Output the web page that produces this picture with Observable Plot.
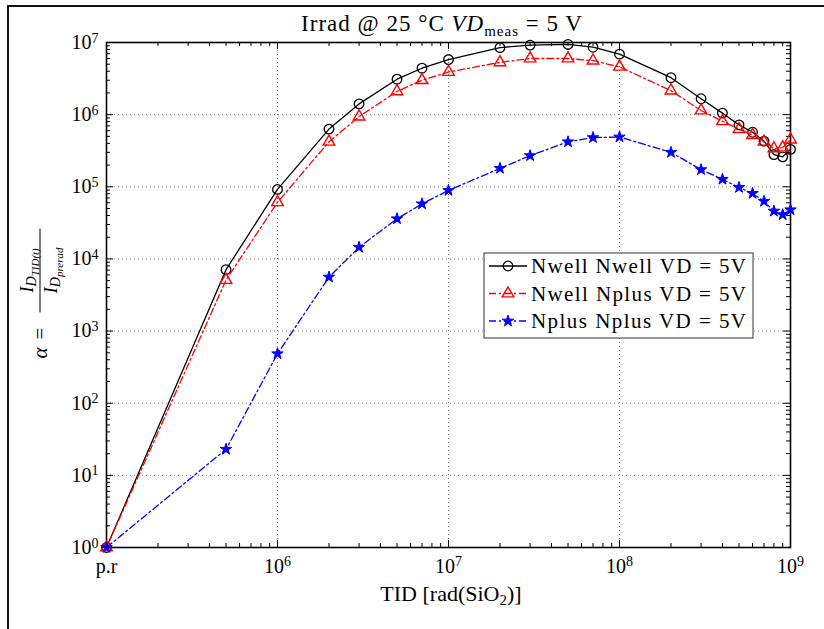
<!DOCTYPE html>
<html><head><meta charset="utf-8">
<script src="https://cdn.jsdelivr.net/npm/d3@7"></script>
<script src="https://cdn.jsdelivr.net/npm/@observablehq/plot@0.6"></script>
<style>html,body{margin:0;padding:0;background:#fff;overflow:hidden;} svg{display:block;}</style>
</head><body><div id="chart"></div>
<script>
// ---- data ----
const tid = [1e5, 5e5, 1e6, 2e6, 3e6, 5e6, 7e6, 1e7, 2e7, 3e7, 5e7, 7e7, 1e8, 2e8, 3e8, 4e8, 5e8, 6e8, 7e8, 8e8, 9e8, 1e9];
const nwellNwell = [1, 7.1e3, 9.2e4, 6.3e5, 1.41e6, 3.1e6, 4.4e6, 5.8e6, 8.5e6, 9.2e6, 9.4e6, 8.6e6, 6.9e6, 3.25e6, 1.66e6, 1.05e6, 7.2e5, 5.7e5, 4.3e5, 2.8e5, 2.6e5, 3.3e5];
const nwellNplus = [1, 5.1e3, 6.1e4, 4.2e5, 9.4e5, 2.1e6, 3.0e6, 3.9e6, 5.3e6, 6.0e6, 6.0e6, 5.6e6, 4.6e6, 2.15e6, 1.14e6, 8.1e5, 6.3e5, 5.2e5, 4.2e5, 3.4e5, 3.5e5, 4.5e5];
const nplusNplus = [1, 23, 485, 5.6e3, 1.45e4, 3.6e4, 5.8e4, 8.9e4, 1.8e5, 2.7e5, 4.2e5, 4.8e5, 4.9e5, 3.0e5, 1.73e5, 1.27e5, 9.8e4, 8.1e4, 6.3e4, 4.6e4, 4.1e4, 4.8e4];
const seriesNames = ["Nwell Nwell VD = 5V", "Nwell Nplus VD = 5V", "Nplus Nplus VD = 5V"];
const xMajor = [1e5, 1e6, 1e7, 1e8, 1e9];
const xTickLabels = ["p.r", "10^6", "10^7", "10^8", "10^9"];
const yMajor = [1e0, 1e1, 1e2, 1e3, 1e4, 1e5, 1e6, 1e7];
const yTickLabels = ["10^0", "10^1", "10^2", "10^3", "10^4", "10^5", "10^6", "10^7"];
const minorMult = [2, 3, 4, 5, 6, 7, 8, 9];
const titleText = "Irrad @ 25 \u00B0C";

// ---- layout ----
const W = 824, H = 629, mL = 106, mR = 34, mT = 42, mB = 82;
const pw = W - mL - mR, ph = H - mT - mB;
const FONT = "'Liberation Serif', 'DejaVu Serif', serif";

const xMinor = xMajor.slice(0, -1).flatMap(d => minorMult.map(m => d * m));
const yMinor = yMajor.slice(0, -1).flatMap(d => minorMult.map(m => d * m));
const xLab = new Map(xMajor.map((d, i) => [d, xTickLabels[i]]));
const yLab = new Map(yMajor.map((d, i) => [d, yTickLabels[i]]));

const s1 = tid.map((t, i) => ({t, v: nwellNwell[i]}));
const s2 = tid.map((t, i) => ({t, v: nwellNplus[i]}));
const s3 = tid.map((t, i) => ({t, v: nplusNplus[i]}));

const styles = [
  {color: "black", dash: null, symbol: "circle", r: 4.8, fill: "none", sw: 1.3},
  {color: "#ff0000", dash: "7,3,2,3", symbol: "triangle", r: 4.3, fill: "none", sw: 1.4},
  {color: "#0000ff", dash: "7,3,2,3", symbol: "star", r: 3.6, fill: "#0000ff", sw: 1}
];
const grid = {stroke: "#808080", strokeWidth: 1, strokeDasharray: "1,3", strokeOpacity: 1};

const chart = Plot.plot({
  width: W, height: H,
  marginLeft: mL, marginRight: mR, marginTop: mT, marginBottom: mB,
  x: {type: "log", domain: [1e5, 1e9]},
  y: {type: "log", domain: [1, 1e7]},
  style: {fontFamily: FONT, fontSize: "20px", background: "white", color: "black", overflow: "visible"},
  marks: [
    Plot.ruleX(xMajor.slice(1, -1), grid),
    Plot.ruleY(yMajor.slice(1, -1), grid),
    // inward minor ticks
    Plot.ruleX(xMinor, {insetTop: ph - 4, stroke: "black"}),
    Plot.ruleX(xMinor, {insetBottom: ph - 4, stroke: "black"}),
    Plot.ruleY(yMinor, {insetRight: pw - 4, stroke: "black"}),
    Plot.ruleY(yMinor, {insetLeft: pw - 4, stroke: "black"}),
    // inward major ticks
    Plot.ruleX(xMajor, {insetTop: ph - 7, stroke: "black"}),
    Plot.ruleX(xMajor, {insetBottom: ph - 7, stroke: "black"}),
    Plot.ruleY(yMajor, {insetRight: pw - 7, stroke: "black"}),
    Plot.ruleY(yMajor, {insetLeft: pw - 7, stroke: "black"}),
    Plot.frame({stroke: "black", strokeWidth: 1.6}),
    Plot.axisX({ticks: xMajor, tickSize: 0, tickPadding: 11, tickFormat: d => xLab.get(d), label: null}),
    Plot.axisY({ticks: yMajor, tickSize: 0, tickPadding: 8, tickFormat: d => yLab.get(d), label: null}),
    ...[s1, s2, s3].flatMap((s, k) => [
      Plot.line(s, {x: "t", y: "v", stroke: styles[k].color, strokeWidth: 1.3, strokeDasharray: styles[k].dash}),
      Plot.dot(s, {x: "t", y: "v", symbol: styles[k].symbol, r: styles[k].r, stroke: styles[k].color,
                   fill: styles[k].fill, strokeWidth: styles[k].sw})
    ])
  ]
});
document.getElementById("chart").appendChild(chart);

const svg = d3.select(chart);

// superscripts on tick labels
svg.selectAll('[aria-label="x-axis tick label"] text, [aria-label="y-axis tick label"] text').each(function () {
  const t = d3.select(this);
  const s = t.text();
  if (s.includes("^")) {
    const [b, e] = s.split("^");
    t.text(b);
    t.append("tspan").attr("dy", "-0.45em").attr("font-size", "0.7em").text(e);
  }
});

// outer border (top + left)
svg.append("path").attr("d", "M8,640V6H830").attr("fill", "none").attr("stroke", "#111").attr("stroke-width", 2);

// title
const tt = svg.append("text").attr("x", mL + pw / 2 - 6).attr("y", 31).attr("text-anchor", "middle")
  .attr("font-family", FONT).attr("font-size", 23).attr("letter-spacing", 1).attr("fill", "black");
tt.append("tspan").text(titleText + " ");
tt.append("tspan").attr("font-style", "italic").text("VD");
tt.append("tspan").attr("font-size", 15).attr("dy", 5).text("meas");
tt.append("tspan").attr("dy", -5).text(" = 5 V");

// x label
const xl = svg.append("text").attr("x", mL + pw / 2 + 3).attr("y", 601).attr("text-anchor", "middle")
  .attr("font-family", FONT).attr("font-size", 22).attr("fill", "black");
xl.append("tspan").text("TID [rad(SiO");
xl.append("tspan").attr("font-size", 15).attr("dy", 4).text("2");
xl.append("tspan").attr("dy", -4).text(")]");

// y label: alpha = I_D_TID(t) / I_D_prerad
const yg = svg.append("g").attr("transform", `translate(40,${mT + ph / 2}) rotate(-90)`)
  .attr("font-family", FONT).attr("fill", "black").attr("text-anchor", "start");
yg.append("text").attr("x", -64).attr("y", 7).attr("font-size", 21).attr("font-style", "italic").text("\u03B1");
yg.append("text").attr("x", -45).attr("y", 7).attr("font-size", 21).text("=");
yg.append("line").attr("x1", -18).attr("x2", 66).attr("y1", 0).attr("y2", 0).attr("stroke", "black").attr("stroke-width", 1);
const num = yg.append("text").attr("x", 24).attr("y", -7).attr("text-anchor", "middle").attr("font-style", "italic");
num.append("tspan").attr("font-size", 19).text("I");
num.append("tspan").attr("font-size", 14).attr("dy", 3).text("D");
num.append("tspan").attr("font-size", 11).attr("dy", 3).text("TID(t)");
const den = yg.append("text").attr("x", 24).attr("y", 17).attr("text-anchor", "middle").attr("font-style", "italic");
den.append("tspan").attr("font-size", 19).text("I");
den.append("tspan").attr("font-size", 14).attr("dy", 3).text("D");
den.append("tspan").attr("font-size", 11).attr("dy", 3).text("prerad");

// legend
const lg = svg.append("g").attr("font-family", FONT);
lg.append("rect").attr("x", 484).attr("y", 253).attr("width", 269).attr("height", 85)
  .attr("fill", "white").attr("stroke", "#333").attr("stroke-width", 1);
const symMap = {circle: d3.symbolCircle, triangle: d3.symbolTriangle, star: d3.symbolStar};
seriesNames.forEach((name, k) => {
  const cy = 266 + k * 27.5;
  const st = styles[k];
  lg.append("line").attr("x1", 489).attr("x2", 527).attr("y1", cy).attr("y2", cy)
    .attr("stroke", st.color).attr("stroke-width", 1.3).attr("stroke-dasharray", st.dash);
  lg.append("path").attr("d", d3.symbol(symMap[st.symbol], st.r * st.r * Math.PI)())
    .attr("transform", `translate(508,${cy})`).attr("fill", st.fill).attr("stroke", st.color).attr("stroke-width", st.sw);
  lg.append("text").attr("x", 531).attr("y", cy + 7).attr("font-size", 21).attr("fill", "black")
    .attr("text-anchor", "start").attr("textLength", 215).attr("lengthAdjust", "spacing").text(name);
});
</script>
</body></html>
